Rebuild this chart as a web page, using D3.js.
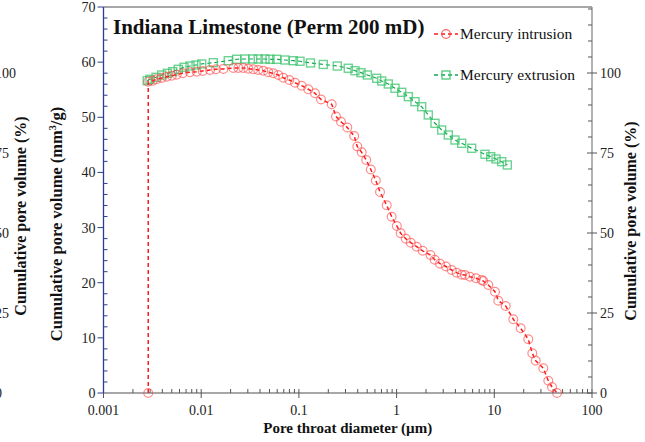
<!DOCTYPE html>
<html><head><meta charset="utf-8">
<script src="https://cdn.jsdelivr.net/npm/d3@7"></script>
<style>body{margin:0;background:#fff}svg{display:block}text{font-family:"Liberation Serif","Times New Roman",serif}</style>
</head><body><svg id="c" width="645" height="442"></svg>
<script>
// ---- data ----
const intrusionDiameter = [0.00287,0.00287,0.00319,0.00350,0.00394,0.00444,0.00499,0.00561,0.00647,0.00768,0.00899,0.01036,0.01231,0.01418,0.01684,0.02131,0.02397,0.02697,0.03035,0.03415,0.03841,0.04322,0.04863,0.05470,0.06154,0.06923,0.07975,0.09123,0.1068,0.1248,0.1462,0.1684,0.2167,0.2398,0.2697,0.3129,0.3681,0.3960,0.4394,0.4886,0.5445,0.6125,0.6763,0.7918,0.8907,1.005,1.101,1.242,1.397,1.606,1.850,2.223,2.455,2.782,3.203,3.664,4.122,4.638,5.013,5.640,6.495,7.430,7.715,8.682,10.17,10.99,13.08,15.65,18.63,22.28,24.49,26.53,31.73,35.70,38.96,43.84];
const intrusionVolume = [0,56.46,56.64,56.89,57.13,57.36,57.54,57.73,57.98,58.16,58.27,58.40,58.58,58.71,58.76,58.94,58.94,58.94,58.81,58.70,58.58,58.45,58.16,57.98,57.67,57.18,56.76,56.27,55.73,55.08,54.35,53.23,52.36,50.15,49.20,48.15,46.61,44.70,43.65,42.26,40.53,38.54,36.45,34.04,31.97,30.29,28.96,27.98,27.26,26.53,25.79,25.03,24.17,23.45,22.94,22.31,21.82,21.45,21.40,21.09,20.80,20.49,20.31,19.59,18.37,16.74,15.78,13.37,11.73,9.74,7.20,5.86,4.48,2.23,1.09,0];
const extrusionDiameter = [0.00280,0.00299,0.00345,0.00394,0.00450,0.00511,0.00583,0.00667,0.00768,0.00885,0.01012,0.01330,0.01894,0.02309,0.02808,0.03366,0.03841,0.04498,0.05061,0.05927,0.07206,0.08764,0.1026,0.1314,0.1777,0.2472,0.3203,0.3751,0.4322,0.5013,0.6257,0.7040,0.8225,0.9630,1.128,1.318,1.543,1.806,2.111,2.473,2.894,3.383,3.962,4.638,5.871,8.031,9.189,10.41,11.90,13.59];
const extrusionVolume = [56.64,56.89,57.25,57.67,57.98,58.27,58.70,59.07,59.30,59.48,59.67,59.90,60.26,60.52,60.57,60.57,60.57,60.57,60.52,60.52,60.39,60.26,60.16,59.85,59.58,59.30,58.89,58.45,58.09,57.67,57.07,56.58,56.04,55.26,54.53,53.74,52.83,51.92,50.42,48.91,47.70,46.79,45.88,45.28,44.38,43.29,42.85,42.44,41.95,41.35];
const xTickValues = [0.001,0.01,0.1,1,10,100];
const xTickLabels = ["0.001","0.01","0.1","1","10","100"];
const yLeftTicks = [0,10,20,30,40,50,60,70];
const yRightTicks = [0,25,50,75,100];
const seriesNames = ["Mercury intrusion","Mercury extrusion"];
const titleText = "Indiana Limestone (Perm 200 mD)";
const totalVolume = 58.03; // mm3/g corresponding to 100 %

// ---- layout ----
const svg = d3.select("#c");
const L = 103.5, R = 592, T = 7, B = 393;
const x = d3.scaleLog().domain([0.001,100]).range([L,R]);
const y = d3.scaleLinear().domain([0,70]).range([B,T]);
const yR = d3.scaleLinear().domain([0,70/totalVolume*100]).range([B,T]);
const gray = "#8a8a8a", navy = "#2a3f8f";

// top border
svg.append("line").attr("x1",L).attr("x2",R).attr("y1",T).attr("y2",T).attr("stroke",gray).attr("stroke-width",1.3);

// x axis
const gx = svg.append("g");
gx.append("line").attr("x1",L).attr("x2",R).attr("y1",B).attr("y2",B).attr("stroke",gray).attr("stroke-width",1.3);
const minorX = [];
for (let e=-3;e<2;e++) for (let k=2;k<10;k++) minorX.push(k*Math.pow(10,e));
gx.selectAll(".mx").data(minorX).enter().append("line")
  .attr("x1",d=>x(d)).attr("x2",d=>x(d)).attr("y1",B).attr("y2",B-4).attr("stroke","#555").attr("stroke-width",1);
gx.selectAll(".Mx").data(xTickValues).enter().append("line")
  .attr("x1",d=>x(d)).attr("x2",d=>x(d)).attr("y1",B-4).attr("y2",B+5).attr("stroke","#555").attr("stroke-width",1);
gx.selectAll(".lx").data(xTickValues).enter().append("text")
  .attr("x",d=>x(d)).attr("y",B+22).attr("text-anchor","middle").attr("font-size",14).attr("fill","#222")
  .text((d,i)=>xTickLabels[i]);
svg.append("text").attr("x",(L+R)/2).attr("y",433).attr("text-anchor","middle")
  .attr("font-size",15).attr("font-weight","bold").attr("fill","#111").text("Pore throat diameter (µm)");

// left axis
const gl = svg.append("g");
gl.append("line").attr("x1",L).attr("x2",L).attr("y1",T).attr("y2",B).attr("stroke",navy).attr("stroke-width",1.3);
const minorY = d3.range(0,71,2).filter(v=>v%10!==0);
gl.selectAll(".my").data(minorY).enter().append("line")
  .attr("x1",L).attr("x2",L+4).attr("y1",d=>y(d)).attr("y2",d=>y(d)).attr("stroke",navy);
gl.selectAll(".My").data(yLeftTicks).enter().append("line")
  .attr("x1",L-6).attr("x2",L).attr("y1",d=>y(d)).attr("y2",d=>y(d)).attr("stroke",navy);
gl.selectAll(".ly").data(yLeftTicks).enter().append("text")
  .attr("x",L-8).attr("y",d=>y(d)+5).attr("text-anchor","end").attr("font-size",14).attr("fill","#222").text(d=>d);
const lt = svg.append("text").attr("transform","translate(62,224) rotate(-90)").attr("text-anchor","middle")
  .attr("font-size",16.5).attr("font-weight","bold").attr("fill","#111");
lt.append("tspan").text("Cumulative pore volume (mm");
lt.append("tspan").attr("font-size",10).attr("dy",-6).text("3");
lt.append("tspan").attr("dy",6).text("/g)");

// right axis
const gr = svg.append("g");
gr.append("line").attr("x1",R).attr("x2",R).attr("y1",T).attr("y2",B).attr("stroke",gray).attr("stroke-width",1.3);
const minorR = d3.range(0,121,5).filter(v=>v%25!==0);
gr.selectAll(".mr").data(minorR).enter().append("line")
  .attr("x1",R-4).attr("x2",R).attr("y1",d=>yR(d)).attr("y2",d=>yR(d)).attr("stroke","#555");
gr.selectAll(".Mr").data(yRightTicks).enter().append("line")
  .attr("x1",R-5).attr("x2",R+5).attr("y1",d=>yR(d)).attr("y2",d=>yR(d)).attr("stroke","#555");
gr.selectAll(".lr").data(yRightTicks).enter().append("text")
  .attr("x",R+8).attr("y",d=>yR(d)+5).attr("font-size",14).attr("fill","#222").text(d=>d);
svg.append("text").attr("transform","translate(636,221) rotate(-90)").attr("text-anchor","middle")
  .attr("font-size",16).attr("font-weight","bold").attr("fill","#111").text("Cumulative pore volume (%)");

// duplicate axis at far left (partly outside the frame, as in the reference)
svg.selectAll(".lo").data(yRightTicks).enter().append("text")
  .attr("x",-5).attr("y",d=>yR(d)+5).attr("font-size",14).attr("fill","#222").text(d=>d);
svg.append("text").attr("transform","translate(26,216) rotate(-90)").attr("text-anchor","middle")
  .attr("font-size",16).attr("font-weight","bold").attr("fill","#111").text("Cumulative pore volume (%)");

// title
svg.append("text").attr("x",113).attr("y",34).attr("font-size",21).attr("font-weight","bold").attr("fill","#111").text(titleText);

// series
const red = "#ff1a1a", green = "#10a850";
const intr = intrusionDiameter.map((d,i)=>[d,intrusionVolume[i]]);
const extr = extrusionDiameter.map((d,i)=>[d,extrusionVolume[i]]);
const line = d3.line().x(d=>x(d[0])).y(d=>y(d[1]));
svg.append("path").datum(extr).attr("d",line).attr("fill","none").attr("stroke",green).attr("stroke-width",1.2).attr("stroke-dasharray","4,3");
svg.selectAll(".sq").data(extr).enter().append("rect")
  .attr("x",d=>x(d[0])-4).attr("y",d=>y(d[1])-4).attr("width",8).attr("height",8)
  .attr("fill","none").attr("stroke","#3cc46e").attr("stroke-opacity",0.75).attr("stroke-width",1.4);
svg.append("path").datum(intr).attr("d",line).attr("fill","none").attr("stroke",red).attr("stroke-width",1.5).attr("stroke-dasharray","4,3");
svg.selectAll(".ci").data(intr).enter().append("circle")
  .attr("cx",d=>x(d[0])).attr("cy",d=>y(d[1])).attr("r",4.4)
  .attr("fill","none").attr("stroke","#ff4040").attr("stroke-opacity",0.6).attr("stroke-width",1.2);

// legend
const leg = [{c:red,mc:"#ff4040",t:"c",y:34},{c:green,mc:"#3cc46e",t:"s",y:75}];
leg.forEach((l,i)=>{
  svg.append("line").attr("x1",434).attr("x2",458).attr("y1",l.y).attr("y2",l.y).attr("stroke",l.c).attr("stroke-width",1.3).attr("stroke-dasharray","4,3");
  if(l.t==="c") svg.append("circle").attr("cx",446).attr("cy",l.y).attr("r",4.3).attr("fill","none").attr("stroke",l.mc).attr("stroke-opacity",0.8).attr("stroke-width",1.2);
  else svg.append("rect").attr("x",442).attr("y",l.y-4).attr("width",8).attr("height",8).attr("fill","none").attr("stroke",l.mc).attr("stroke-opacity",0.85).attr("stroke-width",1.4);
  svg.append("text").attr("x",460).attr("y",l.y+5).attr("font-size",15.5).attr("fill","#111").text(seriesNames[i]);
});
</script></body></html>
